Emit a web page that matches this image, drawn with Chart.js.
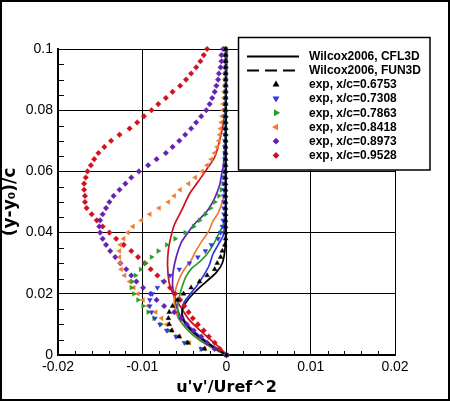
<!DOCTYPE html>
<html>
<head>
<meta charset="utf-8">
<script src="https://cdn.jsdelivr.net/npm/chart.js@4.4.1/dist/chart.umd.min.js"></script>
<style>
html, body { margin: 0; padding: 0; background: #fff; }
#wrap { width: 450px; height: 401px; }
</style>
</head>
<body>
<div id="wrap"><canvas id="profile" width="450" height="401"></canvas></div>
<script>
// stations x/c
const stations = ['0.6753', '0.7308', '0.7863', '0.8418', '0.8973', '0.9528'];

// experiment, common (y-y0)/c levels
const expY = [0.100, 0.098, 0.096, 0.094, 0.092, 0.090, 0.088, 0.086, 0.084, 0.082,
              0.080, 0.078, 0.076, 0.074, 0.072, 0.070, 0.068, 0.066, 0.064, 0.062,
              0.060, 0.058, 0.056, 0.054, 0.052, 0.050, 0.048, 0.046, 0.044, 0.042,
              0.040, 0.038, 0.036, 0.034, 0.032, 0.030, 0.028, 0.026, 0.024, 0.022,
              0.020, 0.018, 0.016, 0.014, 0.012, 0.010, 0.008, 0.006, 0.004, 0.002,
              0.000];

// experiment u'v'/Uref^2
const exp6753 = [-0.0001, -0.0001, -0.0001, -0.0001, -0.0001, -0.0001, -0.0001, -0.0001, -0.0001, -0.0001,
                 -0.0001, -0.0001, -0.0001, -0.0001, -0.0001, -0.0001, -0.0001, -0.0001, -0.0001, -0.0001,
                 -0.0001, -0.0001, -0.0001, -0.0001, -0.0001, -0.0001, -0.0001, -0.0001, -0.0001, -0.0001,
                 -0.0001, -0.0001, -0.0002, -0.0005, -0.0007, -0.0011, -0.0014, -0.0023, -0.0032, -0.0042,
                 -0.0051, -0.0058, -0.0064, -0.0068, -0.0069, -0.0068, -0.0065, -0.0056, -0.0046, -0.0026,
                 0];
const exp7308 = [-0.0001, -0.0001, -0.0001, -0.0001, -0.0001, -0.0001, -0.0001, -0.0001, -0.0001, -0.0001,
                 -0.0002, -0.0002, -0.0002, -0.0002, -0.0002, -0.0002, -0.0002, -0.0002, -0.0002, -0.0002,
                 -0.0003, -0.0003, -0.0003, -0.0003, -0.0003, -0.0003, -0.0003, -0.0003, -0.0004, -0.0005,
                 -0.0007, -0.0010, -0.0018, -0.0025, -0.0034, -0.0044, -0.0056, -0.0067, -0.0075, -0.0082,
                 -0.0088, -0.0091, -0.0091, -0.0089, -0.0085, -0.0079, -0.0071, -0.0060, -0.0050, -0.0030,
                 0];
const exp7863 = [-0.0001, -0.0001, -0.0001, -0.0001, -0.0001, -0.0001, -0.0001, -0.0001, -0.0001, -0.0001,
                 -0.0001, -0.0001, -0.0001, -0.0001, -0.0001, -0.0001, -0.0002, -0.0002, -0.0002, -0.0002,
                 -0.0002, -0.0003, -0.0004, -0.0006, -0.0009, -0.0014, -0.0019, -0.0025, -0.0032, -0.0039,
                 -0.0049, -0.0061, -0.0071, -0.0081, -0.0089, -0.0096, -0.0102, -0.0108, -0.0112, -0.0113,
                 -0.0110, -0.0105, -0.0099, -0.0093, -0.0086, -0.0078, -0.0069, -0.0059, -0.0046, -0.0030,
                 0];
const exp8418 = [-0.0001, -0.0001, -0.0001, -0.0001, -0.0002, -0.0002, -0.0002, -0.0003, -0.0003, -0.0004,
                 -0.0004, -0.0005, -0.0006, -0.0007, -0.0008, -0.0009, -0.0011, -0.0014, -0.0018, -0.0023,
                 -0.0029, -0.0037, -0.0045, -0.0055, -0.0062, -0.0069, -0.0080, -0.0091, -0.0101, -0.0111,
                 -0.0117, -0.0122, -0.0126, -0.0127, -0.0127, -0.0126, -0.0125, -0.0121, -0.0115, -0.0110,
                 -0.0105, -0.0099, -0.0093, -0.0084, -0.0077, -0.0071, -0.0065, -0.0056, -0.0044, -0.0026,
                 0];
const exp8973 = [-0.0004, -0.0006, -0.0006, -0.0007, -0.0009, -0.0010, -0.0012, -0.0014, -0.0017, -0.0020,
                 -0.0024, -0.0030, -0.0036, -0.0042, -0.0049, -0.0056, -0.0064, -0.0072, -0.0083, -0.0093,
                 -0.0104, -0.0113, -0.0120, -0.0127, -0.0134, -0.0139, -0.0143, -0.0147, -0.0150, -0.0151,
                 -0.0150, -0.0147, -0.0143, -0.0138, -0.0132, -0.0126, -0.0119, -0.0113, -0.0107, -0.0099,
                 -0.0090, -0.0083, -0.0074, -0.0062, -0.0054, -0.0047, -0.0039, -0.0030, -0.0023, -0.0014,
                 0];
const exp9528 = [-0.0023, -0.0027, -0.0031, -0.0036, -0.0042, -0.0048, -0.0055, -0.0064, -0.0072, -0.0081,
                 -0.0089, -0.0098, -0.0106, -0.0115, -0.0127, -0.0137, -0.0145, -0.0152, -0.0157, -0.0161,
                 -0.0165, -0.0167, -0.0169, -0.0169, -0.0168, -0.0168, -0.0166, -0.0160, -0.0154, -0.0147,
                 -0.0139, -0.0131, -0.0122, -0.0113, -0.0105, -0.0097, -0.0090, -0.0082, -0.0074, -0.0067,
                 -0.0061, -0.0055, -0.0050, -0.0045, -0.0040, -0.0034, -0.0027, -0.0021, -0.0014, -0.0008,
                 0];

// Wilcox2006, CFL3D profiles
const cflY6753 = [0.100, 0.060, 0.040, 0.034, 0.030, 0.027, 0.024, 0.021, 0.018, 0.015, 0.012, 0.009, 0.006, 0.003, 0.001, 0];
const cflU6753 = [0, -0.0001, -0.0001, -0.0002, -0.0005, -0.0012, -0.0024, -0.0036, -0.0046, -0.0052, -0.0052, -0.0045, -0.0033, -0.0018, -0.0006, 0];
const cflY7308 = [0.100, 0.060, 0.046, 0.043, 0.039, 0.036, 0.033, 0.029, 0.0256, 0.0223, 0.0196, 0.0174, 0.0147, 0.0114, 0.0082, 0.0049, 0.0016, 0];
const cflU7308 = [0, -0.0001, -0.0001, -0.0002, -0.0004, -0.0010, -0.0016, -0.0021, -0.0028, -0.0036, -0.0044, -0.0050, -0.0053, -0.0050, -0.0040, -0.0026, -0.0010, 0];
const cflY7863 = [0.100, 0.060, 0.049, 0.0458, 0.0425, 0.0392, 0.0359, 0.0327, 0.0304, 0.0284, 0.0257, 0.0229, 0.0191, 0.0158, 0.012, 0.0082, 0.0049, 0.0016, 0];
const cflU7863 = [0, -0.0001, -0.0001, -0.0002, -0.0004, -0.0010, -0.0016, -0.0024, -0.0032, -0.0041, -0.0048, -0.0052, -0.0056, -0.0058, -0.0056, -0.0046, -0.0032, -0.0012, 0];
const cflY8418 = [0.100, 0.070, 0.058, 0.054, 0.050, 0.0464, 0.0438, 0.0405, 0.0373, 0.0337, 0.031, 0.0284, 0.0261, 0.0235, 0.0206, 0.017, 0.0125, 0.0087, 0.0049, 0.0016, 0];
const cflU8418 = [-0.0001, -0.0001, -0.0001, -0.0002, -0.0005, -0.0010, -0.0016, -0.0021, -0.0029, -0.0037, -0.0042, -0.0049, -0.0054, -0.0058, -0.0061, -0.0062, -0.0058, -0.0048, -0.0032, -0.0012, 0];
const cflY8973 = [0.100, 0.075, 0.067, 0.0614, 0.0588, 0.0556, 0.0513, 0.0467, 0.0428, 0.0395, 0.0366, 0.0327, 0.0278, 0.0229, 0.019, 0.0147, 0.0114, 0.0075, 0.0042, 0.0016, 0];
const cflU8973 = [-0.0001, -0.0001, -0.0002, -0.0004, -0.0006, -0.0008, -0.0014, -0.0024, -0.0038, -0.0047, -0.0054, -0.0059, -0.0063, -0.0064, -0.0062, -0.0058, -0.0052, -0.0040, -0.0024, -0.0008, 0];
const cflY9528 = [0.100, 0.085, 0.0791, 0.0755, 0.0703, 0.0647, 0.0605, 0.0565, 0.0526, 0.0474, 0.0425, 0.0386, 0.0343, 0.0294, 0.0235, 0.0203, 0.0173, 0.0147, 0.0114, 0.0072, 0.0033, 0.0007, 0];
const cflU9528 = [-0.0001, -0.0001, -0.0002, -0.0004, -0.0008, -0.0014, -0.0024, -0.0034, -0.0044, -0.0053, -0.0062, -0.0066, -0.0069, -0.0070, -0.0068, -0.0064, -0.0058, -0.0052, -0.0044, -0.0028, -0.0012, -0.0002, 0];

// axis ticks
const xTicks = [-0.02, -0.01, 0, 0.01, 0.02];
const yTicks = [0, 0.02, 0.04, 0.06, 0.08, 0.1];

// styles
const colors = ['#000000', '#3535e6', '#22a022', '#f07a30', '#6420b4', '#d0101c'];
const symbols = [
    {style: 'triangle', rot: 0},
    {style: 'triangle', rot: 180},
    {style: 'triangle', rot: 90},
    {style: 'triangle', rot: 270},
    {style: 'rectRot', rot: 0},
    {style: 'rectRot', rot: 0}
];

const expU = [exp6753, exp7308, exp7863, exp8418, exp8973, exp9528];
const cflY = [cflY6753, cflY7308, cflY7863, cflY8418, cflY8973, cflY9528];
const cflU = [cflU6753, cflU7308, cflU7863, cflU8418, cflU8973, cflU9528];

function pts(us, ys) {
    return us.map((u, i) => ({x: u, y: ys[i]}));
}

let datasets = [];
stations.forEach((s, k) => {
    datasets.push({
        label: 'exp, x/c=' + s,
        data: pts(expU[k], expY),
        showLine: false,
        pointStyle: symbols[k].style,
        rotation: symbols[k].rot,
        pointRadius: 2.8,
        pointBorderWidth: 0.4,
        backgroundColor: colors[k],
        borderColor: colors[k],
        clip: false,
        order: 0
    });
});
stations.forEach((s, k) => {
    datasets.push({
        label: 'Wilcox2006, CFL3D ' + s,
        data: pts(cflU[k], cflY[k]),
        showLine: true,
        pointRadius: 0,
        borderWidth: 1.7,
        borderColor: colors[k],
        backgroundColor: colors[k],
        tension: 0.3,
        order: 1
    });
});

// legend entries
const legendRows = [
    {text: 'Wilcox2006, CFL3D', kind: 'solid'},
    {text: 'Wilcox2006, FUN3D', kind: 'dash'}
].concat(stations.map((s, k) => ({text: 'exp, x/c=' + s, kind: 'sym', k: k})));

const boxLegend = {
    id: 'boxLegend',
    afterDraw(chart) {
        const ctx = chart.ctx;
        ctx.save();
        ctx.fillStyle = '#fff';
        ctx.fillRect(238, 37, 192, 133);
        ctx.strokeStyle = '#000';
        ctx.lineWidth = 1.5;
        ctx.strokeRect(238.5, 37.5, 191.5, 132.5);
        ctx.font = 'bold 12px "Liberation Sans", Arial, sans-serif';
        ctx.textBaseline = 'middle';
        legendRows.forEach((r, i) => {
            const cy = 56 + i * 14.2;
            if (r.kind === 'solid' || r.kind === 'dash') {
                ctx.beginPath();
                ctx.lineWidth = 2;
                ctx.strokeStyle = '#000';
                ctx.setLineDash(r.kind === 'dash' ? [12, 6] : []);
                ctx.moveTo(247, Math.round(cy) + 0.5);
                ctx.lineTo(299, Math.round(cy) + 0.5);
                ctx.stroke();
                ctx.setLineDash([]);
            } else {
                ctx.fillStyle = colors[r.k];
                ctx.strokeStyle = colors[r.k];
                Chart.helpers.drawPoint(ctx, {
                    pointStyle: symbols[r.k].style,
                    rotation: symbols[r.k].rot,
                    radius: 2,
                    borderWidth: 0.4
                }, 276, cy);
            }
            ctx.fillStyle = '#000';
            ctx.fillText(r.text, 309, cy + 0.5);
        });
        ctx.restore();
    }
};

// inward minor ticks on the left and bottom axes, outer frame
const frameTicks = {
    id: 'frameTicks',
    afterDatasetsDraw(chart) {
        const {ctx, chartArea: a, scales} = chart;
        ctx.save();
        ctx.strokeStyle = '#000';
        ctx.lineWidth = 1;
        ctx.beginPath();
        for (let k = 1; k < 20; k++) {
            if (k % 5 === 0) continue;
            const px = Math.round(scales.x.getPixelForValue(-0.02 + k * 0.002)) + 0.5;
            ctx.moveTo(px, a.bottom);
            ctx.lineTo(px, a.bottom - 4);
        }
        for (let k = 1; k < 20; k++) {
            if (k % 4 === 0) continue;
            const py = Math.round(scales.y.getPixelForValue(k * 0.005)) + 0.5;
            ctx.moveTo(a.left, py);
            ctx.lineTo(a.left + 6, py);
        }
        ctx.stroke();
        ctx.restore();
    },
    afterDraw(chart) {
        const ctx = chart.ctx;
        ctx.save();
        ctx.strokeStyle = '#000';
        ctx.lineWidth = 2;
        ctx.strokeRect(1, 1, chart.width - 2, chart.height - 2);
        ctx.restore();
    }
};

const tickFont = {family: '"Liberation Sans", Arial, sans-serif', size: 14};
const titleFont = {family: '"DejaVu Sans", sans-serif', size: 16, weight: 'bold'};

new Chart(document.getElementById('profile').getContext('2d'), {
    type: 'scatter',
    data: {datasets: datasets},
    options: {
        responsive: false,
        animation: false,
        events: [],
        layout: {padding: {top: 49, right: 55, bottom: 4, left: 0}},
        plugins: {
            legend: {display: false},
            tooltip: {enabled: false}
        },
        scales: {
            x: {
                type: 'linear',
                min: -0.02,
                max: 0.02,
                afterBuildTicks: (scale) => { scale.ticks = xTicks.map(v => ({value: v})); },
                afterFit: (scale) => { scale.height = 42; },
                ticks: {
                    color: '#000',
                    font: tickFont,
                    padding: 4,
                    maxRotation: 0,
                    callback: (v) => String(+v.toFixed(2))
                },
                grid: {color: '#000', lineWidth: 1, drawTicks: false},
                border: {display: true, color: '#000', width: 2},
                title: {display: true, text: "u'v'/Uref^2", color: '#000', font: titleFont, padding: 0}
            },
            y: {
                type: 'linear',
                min: 0,
                max: 0.1,
                afterBuildTicks: (scale) => { scale.ticks = yTicks.map(v => ({value: v})); },
                afterFit: (scale) => { scale.width = 58; },
                ticks: {
                    color: '#000',
                    font: tickFont,
                    padding: 5,
                    callback: (v) => String(+v.toFixed(2))
                },
                grid: {color: '#000', lineWidth: 1, drawTicks: false},
                border: {display: true, color: '#000', width: 2},
                title: {display: true, text: '(y-y\u2080)/c', color: '#000',
                        font: {family: '"DejaVu Sans", sans-serif', size: 17, weight: 'bold'}, padding: 0}
            }
        }
    },
    plugins: [frameTicks, boxLegend]
});
</script>
</body>
</html>
